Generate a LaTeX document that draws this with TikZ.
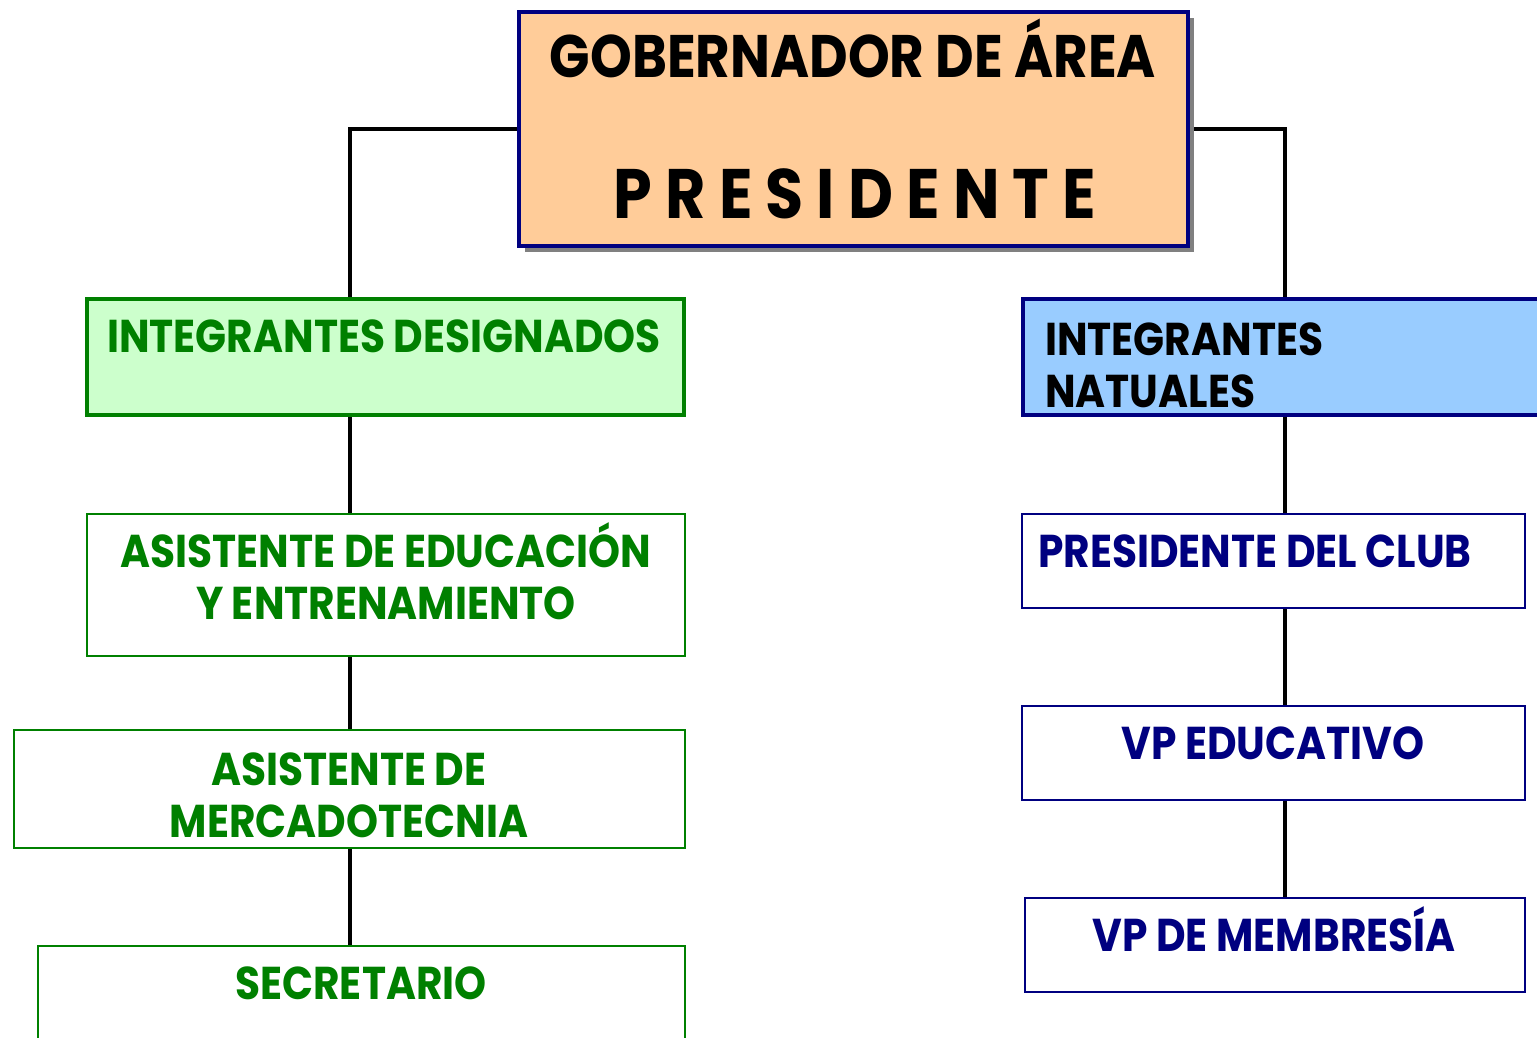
\documentclass[tikz,border=0pt]{standalone}
\usepackage{fontspec}
\setmainfont{Poppins}[FakeStretch=0.885]
\usetikzlibrary{shadows,backgrounds}

\definecolor{naranja}{HTML}{FFCC99}
\definecolor{verdeclaro}{HTML}{CCFFCC}
\definecolor{azulclaro}{HTML}{99CCFF}
\definecolor{verde}{HTML}{008000}
\definecolor{marino}{HTML}{000080}

\tikzset{
  caja/.style={draw, rectangle, inner sep=0pt},
  gruesa/.style={caja, line width=4pt},
  fina/.style={caja, line width=2pt, fill=white},
  linea/.style={line width=4.5pt, black},
  txt/.style={inner sep=0pt, anchor=base, align=center, font=\bfseries\fontsize{46}{52}\selectfont},
}

\begin{document}
\begin{tikzpicture}[x=1pt,y=-1pt]
\useasboundingbox (0,0) rectangle (1537,1037);

\coordinate (izq) at (350,0);
\coordinate (der) at (1285,0);

% cajas
\node[gruesa, draw=marino, fill=naranja, minimum width=669pt, minimum height=234pt,
  drop shadow={shadow xshift=6pt, shadow yshift=-6pt, fill=gray, opacity=1}] (gob) at (853.5,129) {};
\node[gruesa, draw=verde, fill=verdeclaro, minimum width=597pt, minimum height=116pt] (desig) at (385.5,357) {};
\node[gruesa, draw=marino, fill=azulclaro, minimum width=600pt, minimum height=116pt] (nat) at (1323,357) {};

\node[fina, draw=verde, minimum width=598pt, minimum height=142pt] (edu) at (386,585) {};
\node[fina, draw=verde, minimum width=671pt, minimum height=118pt] (merc) at (349.5,789) {};
\node[fina, draw=verde, minimum width=647pt, minimum height=134pt] (sec) at (361.5,1013) {};

\node[fina, draw=marino, minimum width=503pt, minimum height=94pt] (club) at (1273.5,561) {};
\node[fina, draw=marino, minimum width=503pt, minimum height=94pt] (vped) at (1273.5,753) {};
\node[fina, draw=marino, minimum width=500pt, minimum height=94pt] (memb) at (1275,945) {};

% textos (en dos lineas la base es la de la ultima)
\node[txt, font=\bfseries\fontsize{60}{66}\selectfont] (gobt) at (853,77) {GOBERNADOR DE ÁREA};
\node[txt, font=\bfseries\fontsize{70}{76}\selectfont] (prest) at (855,218) {P R E S I D E N T E};
\node[txt, text=verde] (desigt) at (384,352) {INTEGRANTES DESIGNADOS};
\node[txt, anchor=base west, align=left] (natt) at (1045,407) {INTEGRANTES\\NATUALES};
\node[txt, text=verde] (edut) at (386,619) {ASISTENTE DE EDUCACIÓN\\Y ENTRENAMIENTO};
\node[txt, text=verde] (merct) at (349,837) {ASISTENTE DE\\MERCADOTECNIA};
\node[txt, text=verde] (sect) at (361,999) {SECRETARIO};
\node[txt, text=marino] (clubt) at (1255,567) {PRESIDENTE DEL CLUB};
\node[txt, text=marino] (vpedt) at (1273,759) {VP EDUCATIVO};
\node[txt, text=marino] (membt) at (1274,951) {VP DE MEMBRESÍA};

% lineas
\begin{scope}[on background layer]
\draw[linea] (gob.west) -| (izq |- desig.north);
\draw[linea] (gob.east) -| (der |- nat.north);
\foreach \a/\b in {desig/edu,edu/merc,merc/sec}
{ \draw[linea] (izq |- \a.south) -- (izq |- \b.north); }
\foreach \a/\b in {nat/club,club/vped,vped/memb}
{ \draw[linea] (der |- \a.south) -- (der |- \b.north); }
\end{scope}

\end{tikzpicture}
\end{document}
